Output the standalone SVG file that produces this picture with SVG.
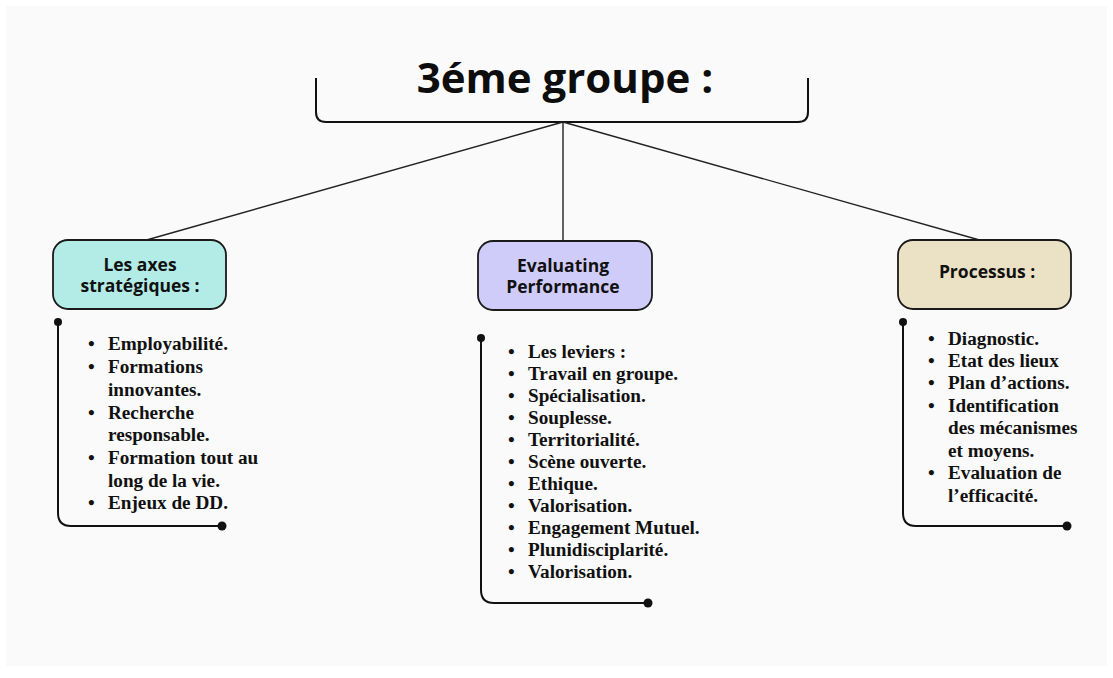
<svg xmlns="http://www.w3.org/2000/svg" width="1113" height="678" viewBox="0 0 1113 678">
<style>
.conn{fill:none;stroke:#222;stroke-width:1.4}
.brk{fill:none;stroke:#111;stroke-width:2}
.node{stroke:#1a1a1a;stroke-width:1.8}
.ntxt{font-family:"Open Sans","Liberation Sans",sans-serif;font-weight:700;font-size:17.5px;fill:#111;text-anchor:middle}
.item{font-family:"Liberation Serif",serif;font-weight:700;font-size:19.2px;fill:#111}
.title{font-family:"Open Sans","Liberation Sans",sans-serif;font-weight:700;font-size:42px;fill:#0d0d0d;text-anchor:middle}
</style>
<rect width="1113" height="678" fill="#ffffff"/>
<rect x="6" y="6" width="1101" height="660" fill="#fafafa"/>
<g id="title">
<path class="brk" d="M316 78 V112 Q316 122 326 122 H798 Q808 122 808 112 V78"/>
<text class="title" x="565" y="93">3éme groupe :</text>
</g>
<g id="connectors">
<line class="conn" x1="563" y1="122" x2="143" y2="241"/>
<line class="conn" x1="563" y1="122" x2="563" y2="241"/>
<line class="conn" x1="563" y1="122" x2="983" y2="241"/>
</g>
<g id="node-axes">
<rect class="node" x="53" y="240" width="173" height="69" rx="15" fill="#b3ece6"/>
<text class="ntxt" x="140" y="271">Les axes</text>
<text class="ntxt" x="140" y="292">stratégiques :</text>
</g>
<g id="list-axes">
<path class="brk" d="M58 322 V513 Q58 526 71 526 H222"/>
<circle cx="58" cy="322" r="4" fill="#111"/>
<circle cx="222" cy="526" r="4.5" fill="#111"/>
<text class="item">
<tspan x="88" y="350">•</tspan><tspan x="108" y="350">Employabilité.</tspan>
<tspan x="88" y="373">•</tspan><tspan x="108" y="373">Formations</tspan>
<tspan x="108" y="396">innovantes.</tspan>
<tspan x="88" y="419">•</tspan><tspan x="108" y="419">Recherche</tspan>
<tspan x="108" y="441">responsable.</tspan>
<tspan x="88" y="464">•</tspan><tspan x="108" y="464">Formation tout au</tspan>
<tspan x="108" y="487">long de la vie.</tspan>
<tspan x="88" y="509">•</tspan><tspan x="108" y="509">Enjeux de DD.</tspan>
</text>
</g>
<g id="node-eval">
<rect class="node" x="478" y="241" width="174" height="69" rx="15" fill="#d0ccfa"/>
<text class="ntxt" x="563" y="272">Evaluating</text>
<text class="ntxt" x="563" y="293">Performance</text>
</g>
<g id="list-eval">
<path class="brk" d="M481 338 V590 Q481 603 494 603 H648"/>
<circle cx="481" cy="338" r="4" fill="#111"/>
<circle cx="648" cy="603" r="4.5" fill="#111"/>
<text class="item">
<tspan x="508" y="358">•</tspan><tspan x="528" y="358">Les leviers :</tspan>
<tspan x="508" y="380">•</tspan><tspan x="528" y="380">Travail en groupe.</tspan>
<tspan x="508" y="402">•</tspan><tspan x="528" y="402">Spécialisation.</tspan>
<tspan x="508" y="424">•</tspan><tspan x="528" y="424">Souplesse.</tspan>
<tspan x="508" y="446">•</tspan><tspan x="528" y="446">Territorialité.</tspan>
<tspan x="508" y="468">•</tspan><tspan x="528" y="468">Scène ouverte.</tspan>
<tspan x="508" y="490">•</tspan><tspan x="528" y="490">Ethique.</tspan>
<tspan x="508" y="512">•</tspan><tspan x="528" y="512">Valorisation.</tspan>
<tspan x="508" y="534">•</tspan><tspan x="528" y="534">Engagement Mutuel.</tspan>
<tspan x="508" y="556">•</tspan><tspan x="528" y="556">Plunidisciplarité.</tspan>
<tspan x="508" y="578">•</tspan><tspan x="528" y="578">Valorisation.</tspan>
</text>
</g>
<g id="node-processus">
<rect class="node" x="898" y="240" width="173" height="69" rx="15" fill="#ebe1c5"/>
<text class="ntxt" x="987" y="278">Processus :</text>
</g>
<g id="list-processus">
<path class="brk" d="M903 322 V513 Q903 526 916 526 H1067"/>
<circle cx="903" cy="322" r="4" fill="#111"/>
<circle cx="1067" cy="526" r="4.5" fill="#111"/>
<text class="item">
<tspan x="928" y="345">•</tspan><tspan x="948" y="345">Diagnostic.</tspan>
<tspan x="928" y="367">•</tspan><tspan x="948" y="367">Etat des lieux</tspan>
<tspan x="928" y="389">•</tspan><tspan x="948" y="389">Plan d’actions.</tspan>
<tspan x="928" y="412">•</tspan><tspan x="948" y="412">Identification</tspan>
<tspan x="948" y="434">des mécanismes</tspan>
<tspan x="948" y="457">et moyens.</tspan>
<tspan x="928" y="479">•</tspan><tspan x="948" y="479">Evaluation de</tspan>
<tspan x="948" y="502">l’efficacité.</tspan>
</text>
</g>
</svg>
